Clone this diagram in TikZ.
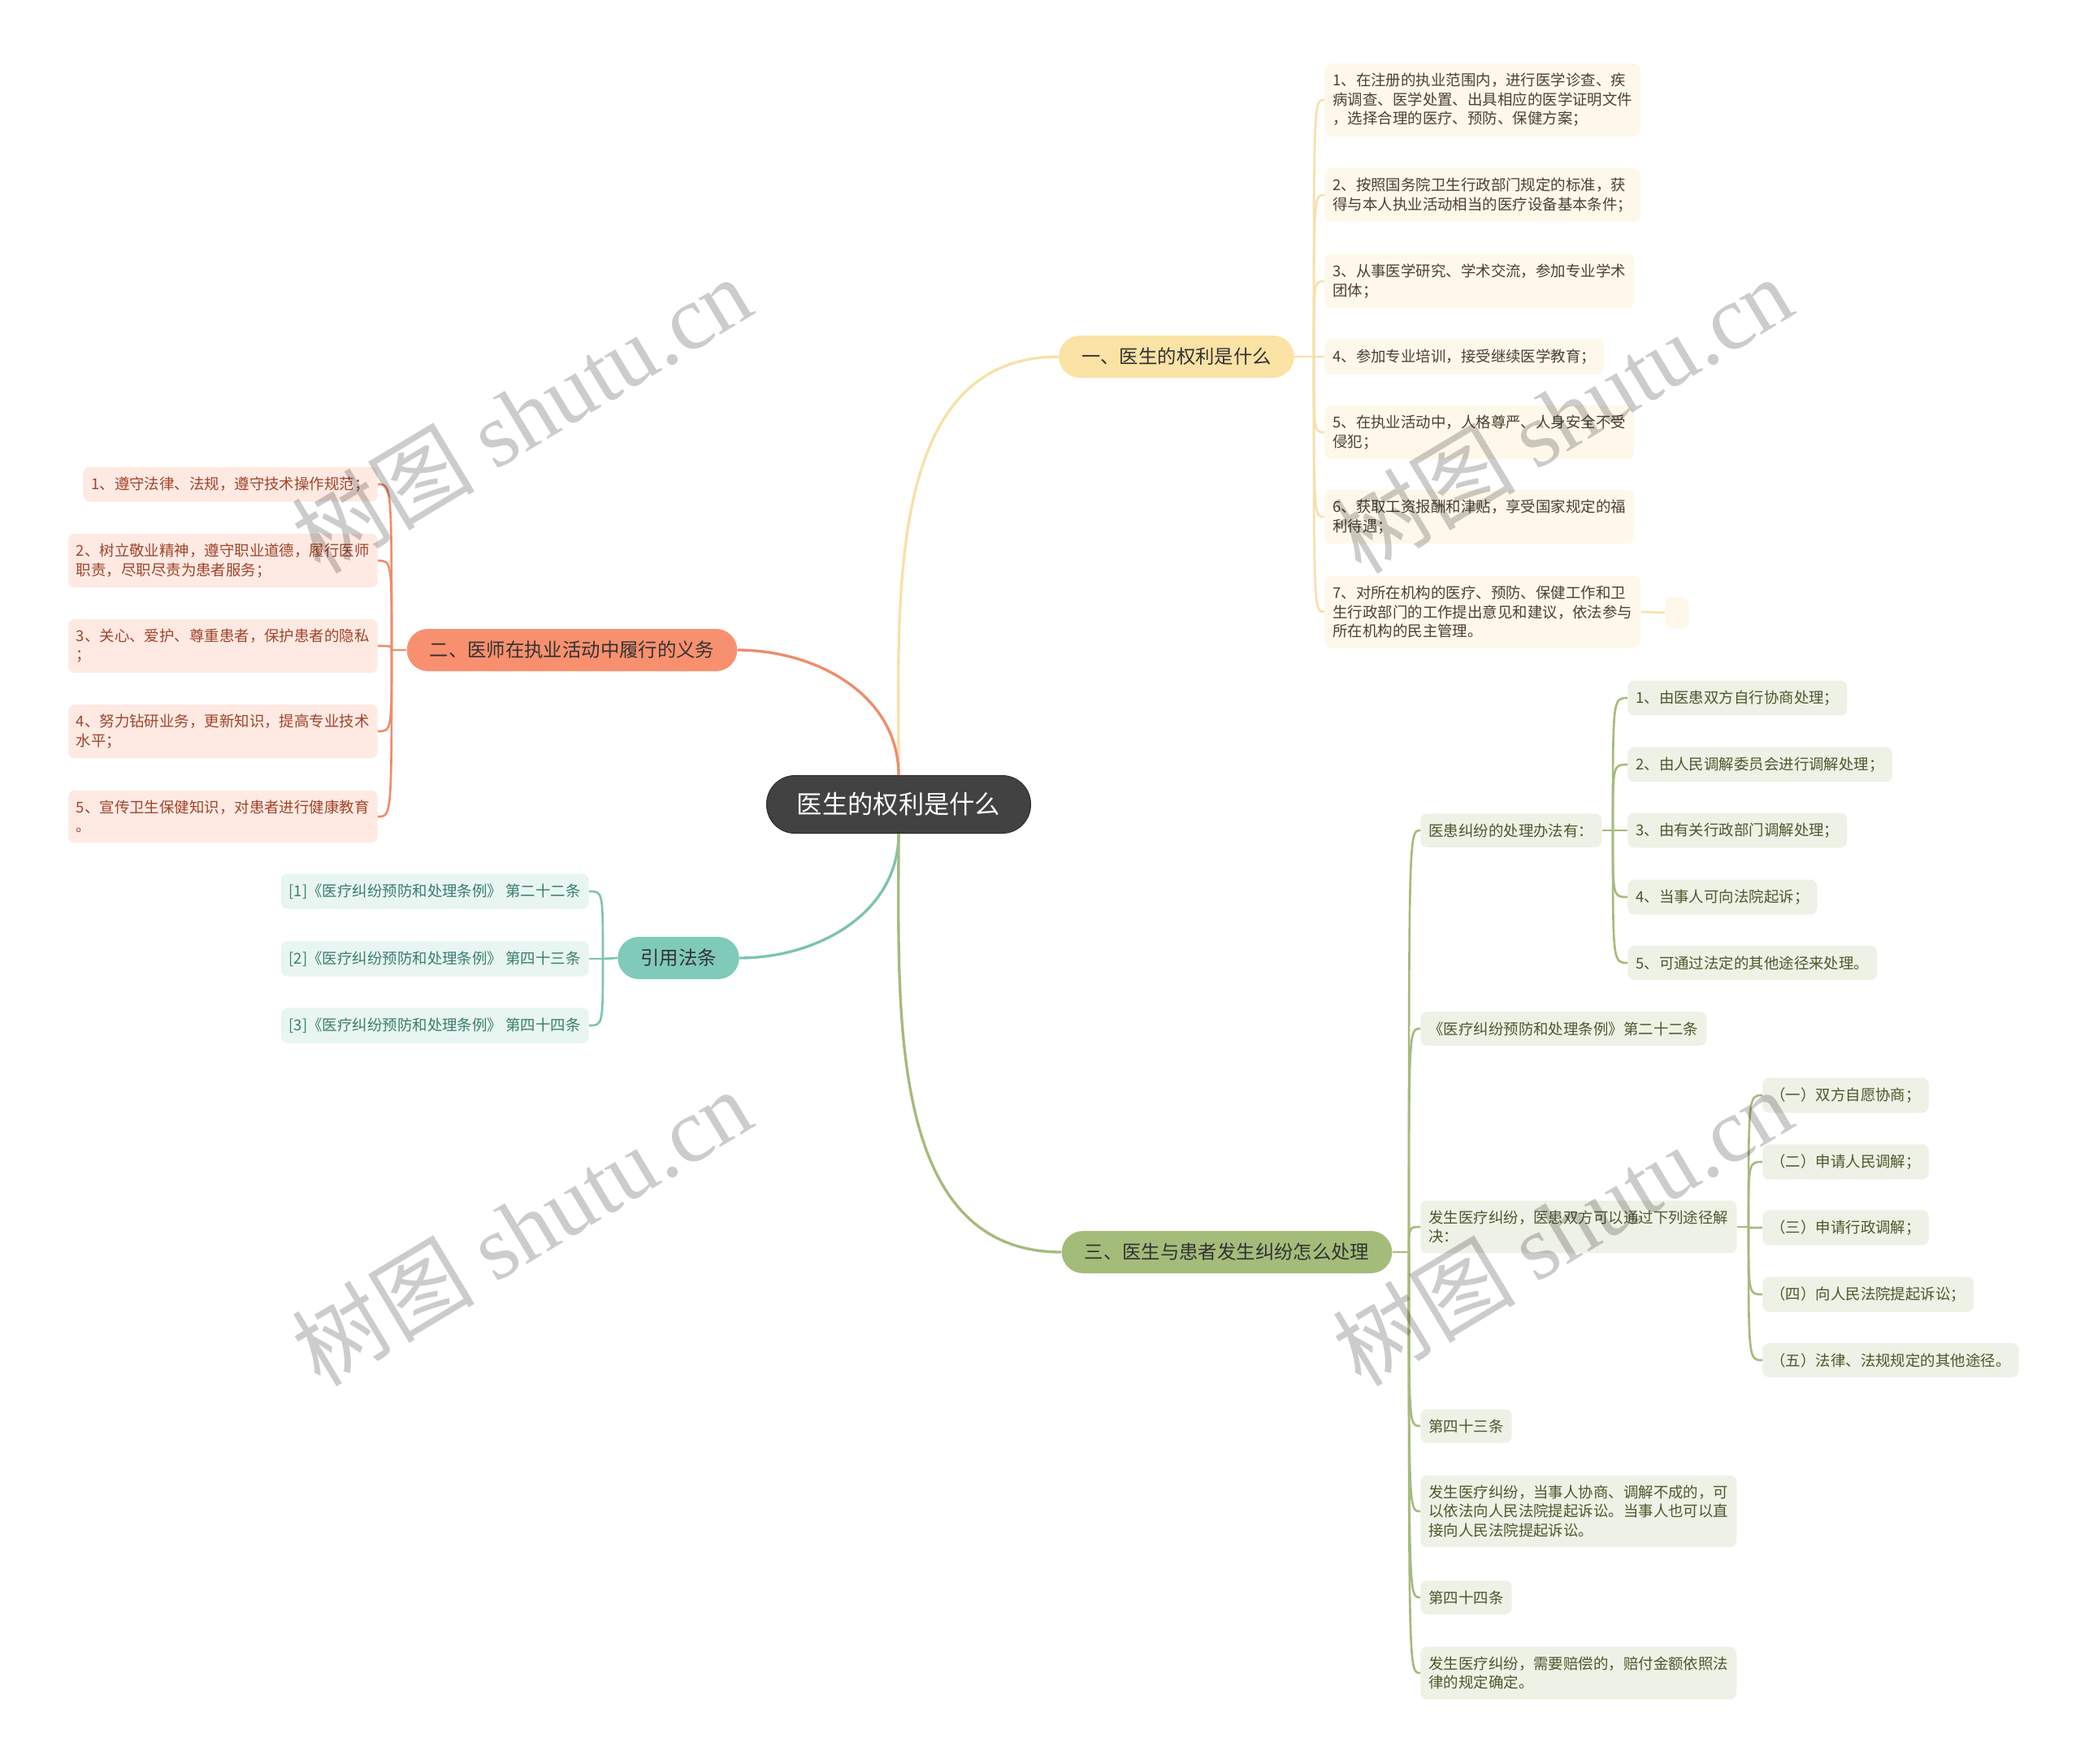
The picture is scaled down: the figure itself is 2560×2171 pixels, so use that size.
\documentclass[tikz,border=0pt]{standalone}
\usepackage{fontspec}
\setmainfont{Noto Sans CJK SC}
\newfontfamily\wmfont{Liberation Serif}
\usetikzlibrary{calc}
\definecolor{rootf}{HTML}{424242}
\definecolor{rootd}{HTML}{2E2E2E}
\definecolor{yfill}{HTML}{FBE2A5}
\definecolor{yline}{HTML}{F7E1AA}
\definecolor{yleaf}{HTML}{FEF8EB}
\definecolor{ytext}{HTML}{4A4130}
\definecolor{ofill}{HTML}{F8906F}
\definecolor{oline}{HTML}{EE8C6C}
\definecolor{oleaf}{HTML}{FEEAE3}
\definecolor{otext}{HTML}{A2442A}
\definecolor{tfill}{HTML}{80CABA}
\definecolor{tline}{HTML}{7DC3B2}
\definecolor{tleaf}{HTML}{E8F5F1}
\definecolor{ttext}{HTML}{3A7D6E}
\definecolor{gfill}{HTML}{A4BC7A}
\definecolor{gline}{HTML}{A7BA7D}
\definecolor{gleaf}{HTML}{EEF1E5}
\definecolor{gtext}{HTML}{4A5A2E}
\definecolor{btext}{HTML}{333333}
\tikzset{
  rt/.style={fill=rootf,draw=rootd,line width=0.6pt,rounded corners=0.7cm,text=white,font=\fontsize{17.8}{21}\selectfont,minimum width=6.5cm,minimum height=1.42cm,inner sep=0pt},
  br/.style={rounded corners=0.52cm,inner xsep=0.56cm,inner ysep=0pt,minimum height=1.04cm,text=btext,font=\fontsize{13.3}{16}\selectfont},
  lf/.style={rounded corners=0.16cm,inner xsep=0.2cm,inner ysep=0.244cm,align=left,font=\fontsize{10.5}{13.3}\selectfont},
  ly/.style={lf,fill=yleaf,text=ytext},
  lo/.style={lf,fill=oleaf,text=otext},
  lt/.style={lf,fill=tleaf,text=ttext},
  lg/.style={lf,fill=gleaf,text=gtext},
  mw/.style={line width=1.9pt},
  sw/.style={line width=1.5pt},
  cv/.style={to path={.. controls (\tikztostart |- \tikztotarget) .. (\tikztotarget)}},
  wm/.style={rotate=31,text=black,text opacity=0.2,font=\fontsize{64}{64}\selectfont},
}
\begin{document}
\begin{tikzpicture}[x=0.02cm,y=0.02cm]
\useasboundingbox (0,0) rectangle (2560,-2171);
\node[rt] (root) at (1106,-990) {医生的权利是什么};
\node[br,fill=yfill] (b1) at (1448,-439) {一、医生的权利是什么};
\node[br,fill=ofill] (b2) at (704,-800) {二、医师在执业活动中履行的义务};
\node[br,fill=tfill] (bref) at (835,-1179) {引用法条};
\node[br,fill=gfill] (b3) at (1510,-1541) {三、医生与患者发生纠纷怎么处理};

\node[ly,anchor=west] (r1) at (1630,-123) {1、在注册的执业范围内，进行医学诊查、疾\\病调查、医学处置、出具相应的医学证明文件\\，选择合理的医疗、预防、保健方案；};
\node[ly,anchor=west] (r2) at (1630,-240) {2、按照国务院卫生行政部门规定的标准，获\\得与本人执业活动相当的医疗设备基本条件；};
\node[ly,anchor=west] (r3) at (1630,-346) {3、从事医学研究、学术交流，参加专业学术\\团体；};
\node[ly,anchor=west] (r4) at (1630,-439) {4、参加专业培训，接受继续医学教育；};
\node[ly,anchor=west] (r5) at (1630,-532) {5、在执业活动中，人格尊严、人身安全不受\\侵犯；};
\node[ly,anchor=west] (r6) at (1630,-636) {6、获取工资报酬和津贴，享受国家规定的福\\利待遇；};
\node[ly,anchor=west] (r7) at (1630,-753) {7、对所在机构的医疗、预防、保健工作和卫\\生行政部门的工作提出意见和建议，依法参与\\所在机构的民主管理。};
\node[ly,inner sep=0pt,minimum width=0.58cm,minimum height=0.78cm] (r7x) at (2064,-754) {};

\node[lo,anchor=east] (d1) at (465,-596) {1、遵守法律、法规，遵守技术操作规范；};
\node[lo,anchor=east] (d2) at (465,-690) {2、树立敬业精神，遵守职业道德，履行医师\\职责，尽职尽责为患者服务；};
\node[lo,anchor=east] (d3) at (465,-795) {3、关心、爱护、尊重患者，保护患者的隐私\\；};
\node[lo,anchor=east] (d4) at (465,-900) {4、努力钻研业务，更新知识，提高专业技术\\水平；};
\node[lo,anchor=east] (d5) at (465,-1005) {5、宣传卫生保健知识，对患者进行健康教育\\。};

\node[lt,anchor=east] (f1) at (725,-1097) {[1]《医疗纠纷预防和处理条例》 第二十二条};
\node[lt,anchor=east] (f2) at (725,-1180) {[2]《医疗纠纷预防和处理条例》 第四十三条};
\node[lt,anchor=east] (f3) at (725,-1262) {[3]《医疗纠纷预防和处理条例》 第四十四条};

\node[lg,anchor=west] (s1) at (1748,-1022) {医患纠纷的处理办法有：};
\node[lg,anchor=west] (s2) at (1748,-1266) {《医疗纠纷预防和处理条例》第二十二条};
\node[lg,anchor=west] (s3) at (1748,-1510) {发生医疗纠纷，医患双方可以通过下列途径解\\决：};
\node[lg,anchor=west] (s4) at (1748,-1755) {第四十三条};
\node[lg,anchor=west] (s5) at (1748,-1860) {发生医疗纠纷，当事人协商、调解不成的，可\\以依法向人民法院提起诉讼。当事人也可以直\\接向人民法院提起诉讼。};
\node[lg,anchor=west] (s6) at (1748,-1966) {第四十四条};
\node[lg,anchor=west] (s7) at (1748,-2059) {发生医疗纠纷，需要赔偿的，赔付金额依照法\\律的规定确定。};

\node[lg,anchor=west] (m1) at (2003,-859) {1、由医患双方自行协商处理；};
\node[lg,anchor=west] (m2) at (2003,-941) {2、由人民调解委员会进行调解处理；};
\node[lg,anchor=west] (m3) at (2003,-1022) {3、由有关行政部门调解处理；};
\node[lg,anchor=west] (m4) at (2003,-1104) {4、当事人可向法院起诉；};
\node[lg,anchor=west] (m5) at (2003,-1185) {5、可通过法定的其他途径来处理。};

\node[lg,anchor=west] (w1) at (2169,-1348) {（一）双方自愿协商；};
\node[lg,anchor=west] (w2) at (2169,-1430) {（二）申请人民调解；};
\node[lg,anchor=west] (w3) at (2169,-1511) {（三）申请行政调解；};
\node[lg,anchor=west] (w4) at (2169,-1593) {（四）向人民法院提起诉讼；};
\node[lg,anchor=west] (w5) at (2169,-1674) {（五）法律、法规规定的其他途径。};

\coordinate (j1) at (1617,-439); \coordinate (j2) at (482,-800); \coordinate (jf) at (742,-1180);
\coordinate (j3) at (1734,-1541); \coordinate (jm) at (1985,-1022); \coordinate (jw) at (2152,-1510);

\draw[yline,mw] (root.north) to[out=90,in=180] (b1.west);
\draw[oline,mw] (root.north) to[out=90,in=0] (b2.east);
\draw[tline,mw] (root.south) to[out=-90,in=0] (bref.east);
\draw[gline,mw] (root.south) to[out=-90,in=180] (b3.west);

\draw[yline,sw] (b1.east) -- (j1);
\draw[yline,sw] (j1) to[cv] (r1.west); \draw[yline,sw] (j1) to[cv] (r2.west); \draw[yline,sw] (j1) to[cv] (r3.west);
\draw[yline,sw] (j1) to[cv] (r4.west); \draw[yline,sw] (j1) to[cv] (r5.west); \draw[yline,sw] (j1) to[cv] (r6.west);
\draw[yline,sw] (j1) to[cv] (r7.west); \draw[yline,sw] (r7.east) -- (r7x.west);

\draw[oline,sw] (b2.west) -- (j2);
\draw[oline,sw] (j2) to[cv] (d1.east); \draw[oline,sw] (j2) to[cv] (d2.east); \draw[oline,sw] (j2) to[cv] (d3.east);
\draw[oline,sw] (j2) to[cv] (d4.east); \draw[oline,sw] (j2) to[cv] (d5.east);

\draw[tline,sw] (bref.west) -- (jf);
\draw[tline,sw] (jf) to[cv] (f1.east); \draw[tline,sw] (jf) to[cv] (f2.east); \draw[tline,sw] (jf) to[cv] (f3.east);

\draw[gline,sw] (b3.east) -- (j3);
\draw[gline,sw] (j3) to[cv] (s1.west); \draw[gline,sw] (j3) to[cv] (s2.west); \draw[gline,sw] (j3) to[cv] (s3.west);
\draw[gline,sw] (j3) to[cv] (s4.west); \draw[gline,sw] (j3) to[cv] (s5.west); \draw[gline,sw] (j3) to[cv] (s6.west);
\draw[gline,sw] (j3) to[cv] (s7.west);

\draw[gline,sw] (s1.east) -- (jm);
\draw[gline,sw] (jm) to[cv] (m1.west); \draw[gline,sw] (jm) to[cv] (m2.west); \draw[gline,sw] (jm) to[cv] (m3.west);
\draw[gline,sw] (jm) to[cv] (m4.west); \draw[gline,sw] (jm) to[cv] (m5.west);

\draw[gline,sw] (s3.east) -- (jw);
\draw[gline,sw] (jw) to[cv] (w1.west); \draw[gline,sw] (jw) to[cv] (w2.west); \draw[gline,sw] (jw) to[cv] (w3.west);
\draw[gline,sw] (jw) to[cv] (w4.west); \draw[gline,sw] (jw) to[cv] (w5.west);

\node[wm] (wm1) at (642,-510) {树图 {\wmfont shutu.cn}};
\node[wm] (wm2) at (1923,-510) {树图 {\wmfont shutu.cn}};
\node[wm] (wm3) at (642,-1510) {树图 {\wmfont shutu.cn}};
\node[wm] (wm4) at (1923,-1510) {树图 {\wmfont shutu.cn}};
\end{tikzpicture}
\end{document}
